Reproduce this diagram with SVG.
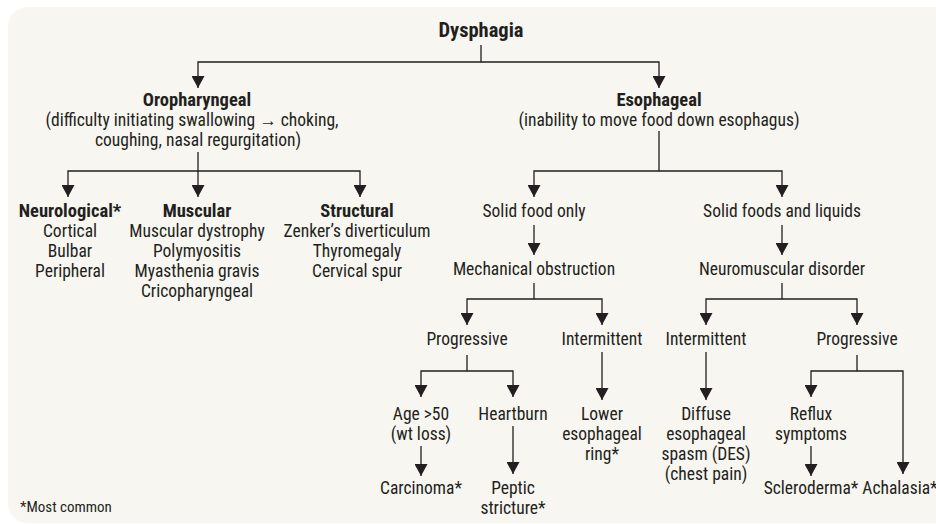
<svg xmlns="http://www.w3.org/2000/svg" width="936" height="524" viewBox="0 0 936 524">
<style>
text{font-family:Roboto,"Liberation Sans",sans-serif;font-stretch:condensed;font-size:17.5px;fill:#231f20;text-anchor:middle}
.b{font-weight:bold;font-size:18.5px}
.t{font-size:20.5px}
.note{font-size:15px;text-anchor:start}
.c line,.c path{stroke:#231f20;stroke-width:1.3;fill:none}
</style>
<defs>
<marker id="ah" viewBox="0 0 12 13" markerWidth="12" markerHeight="13" refX="12" refY="6.5" orient="auto" markerUnits="userSpaceOnUse">
<path d="M0,0 L12,6.5 L0,13 Z" fill="#231f20"/>
</marker>
</defs>
<rect x="8" y="7" width="950" height="516" rx="20" ry="20" fill="#f7f6f0"/>
<g class="c" id="connectors">
<path d="M481,45 V62 H198 V88" marker-end="url(#ah)"/>
<path d="M481,62 H659 V88" marker-end="url(#ah)"/>
<path d="M198,152 V171 H68 V197" marker-end="url(#ah)"/>
<path d="M198,171 V197" marker-end="url(#ah)"/>
<path d="M198,171 H360 V197" marker-end="url(#ah)"/>
<path d="M659,131 V171 H534 V197" marker-end="url(#ah)"/>
<path d="M659,171 H782 V197" marker-end="url(#ah)"/>
<path d="M534,225 V255" marker-end="url(#ah)"/>
<path d="M782,225 V255" marker-end="url(#ah)"/>
<path d="M534,283 V299 H467 V325" marker-end="url(#ah)"/>
<path d="M534,299 H602 V325" marker-end="url(#ah)"/>
<path d="M782,283 V299 H706 V325" marker-end="url(#ah)"/>
<path d="M782,299 H857 V325" marker-end="url(#ah)"/>
<path d="M467,355 V371 H421 V397" marker-end="url(#ah)"/>
<path d="M467,371 H513 V397" marker-end="url(#ah)"/>
<path d="M602,352 V400" marker-end="url(#ah)"/>
<path d="M706,352 V400" marker-end="url(#ah)"/>
<path d="M857,355 V371 H811 V397" marker-end="url(#ah)"/>
<path d="M857,371 H903 V474" marker-end="url(#ah)"/>
<path d="M421,446 V476" marker-end="url(#ah)"/>
<path d="M513,426 V474" marker-end="url(#ah)"/>
<path d="M811,446 V476" marker-end="url(#ah)"/>
</g>
<g id="dysphagia"><text class="b t" x="481" y="37">Dysphagia</text></g>
<g id="oropharyngeal"><text class="b" x="197" y="106">Oropharyngeal</text><text x="192" y="126">(difficulty initiating swallowing → choking,</text><text x="198" y="146">coughing, nasal regurgitation)</text></g>
<g id="esophageal"><text class="b" x="659" y="106">Esophageal</text><text x="659" y="126">(inability to move food down esophagus)</text></g>
<g id="neurological"><text class="b" x="70" y="217">Neurological*</text><text x="70" y="237">Cortical</text><text x="70" y="257">Bulbar</text><text x="70" y="277">Peripheral</text></g>
<g id="muscular"><text class="b" x="197" y="217">Muscular</text><text x="197" y="237">Muscular dystrophy</text><text x="197" y="257">Polymyositis</text><text x="197" y="277">Myasthenia gravis</text><text x="197" y="297">Cricopharyngeal</text></g>
<g id="structural"><text class="b" x="357" y="217">Structural</text><text x="357" y="237">Zenker’s diverticulum</text><text x="357" y="257">Thyromegaly</text><text x="357" y="277">Cervical spur</text></g>
<g id="solid-only"><text x="534" y="217">Solid food only</text></g>
<g id="solid-liquids"><text x="782" y="217">Solid foods and liquids</text></g>
<g id="mechanical"><text x="534" y="275">Mechanical obstruction</text></g>
<g id="neuromuscular"><text x="782" y="275">Neuromuscular disorder</text></g>
<g id="mech-progressive"><text x="467" y="345">Progressive</text></g>
<g id="mech-intermittent"><text x="602" y="345">Intermittent</text></g>
<g id="nm-intermittent"><text x="706" y="345">Intermittent</text></g>
<g id="nm-progressive"><text x="857" y="345">Progressive</text></g>
<g id="age"><text x="421" y="420">Age &gt;50</text><text x="421" y="440">(wt loss)</text></g>
<g id="heartburn"><text x="513" y="420">Heartburn</text></g>
<g id="carcinoma"><text x="421" y="494">Carcinoma*</text></g>
<g id="peptic"><text x="513" y="494">Peptic</text><text x="513" y="514">stricture*</text></g>
<g id="ring"><text x="602" y="420">Lower</text><text x="602" y="440">esophageal</text><text x="602" y="460">ring*</text></g>
<g id="des"><text x="706" y="420">Diffuse</text><text x="706" y="440">esophageal</text><text x="706" y="460">spasm (DES)</text><text x="706" y="480">(chest pain)</text></g>
<g id="reflux"><text x="811" y="420">Reflux</text><text x="811" y="440">symptoms</text></g>
<g id="scleroderma"><text x="811" y="494">Scleroderma*</text></g>
<g id="achalasia"><text x="900" y="494">Achalasia*</text></g>
<g id="note"><text class="note" x="20" y="512">*Most common</text></g>
</svg>
